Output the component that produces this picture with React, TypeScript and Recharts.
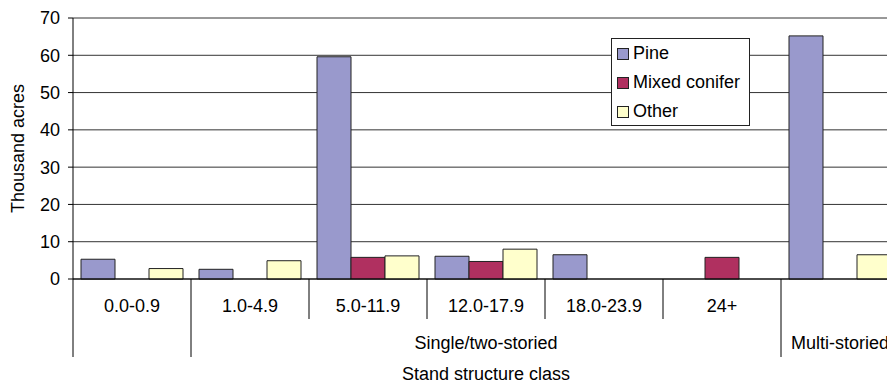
import React from 'react';
import {
  Bar,
  BarChart,
  CartesianGrid,
  Legend,
  XAxis,
  YAxis,
} from 'recharts';

// stand size classes along the bottom axis
const classes = [
  '0.0-0.9',
  '1.0-4.9',
  '5.0-11.9',
  '12.0-17.9',
  '18.0-23.9',
  '24+',
  'Multi',
];
const classLabels = ['0.0-0.9', '1.0-4.9', '5.0-11.9', '12.0-17.9', '18.0-23.9', '24+', ''];

// second row of the axis: group names and how many classes each covers
const groupNames = ['', 'Single/two-storied', 'Multi-storied'];
const groupSpans = [1, 5, 1];

// thousand acres by forest type
const pine = [5.3, 2.6, 59.6, 6.1, 6.5, 0, 65.2];
const mixedConifer = [0, 0, 5.8, 4.7, 0, 5.8, 0];
const other = [2.8, 4.9, 6.2, 8.0, 0, 0, 6.5];

const yTicks = [0, 10, 20, 30, 40, 50, 60, 70];

const series = [
  { key: 'pine', name: 'Pine', color: '#9999CC' },
  { key: 'mixed', name: 'Mixed conifer', color: '#B03060' },
  { key: 'other', name: 'Other', color: '#FFFFCC' },
];

const data = classes.map((c, i) => ({
  cls: c,
  pine: pine[i],
  mixed: mixedConifer[i],
  other: other[i],
}));

const FONT = '"Liberation Sans", Arial, sans-serif';
const FONT_SIZE = 18;
const CHART_W = 900;
const CHART_H = 384;
const Y_AXIS_W = 73;
const MARGIN = { top: 18, right: 1, left: 0, bottom: 0 };
const BAND = (CHART_W - Y_AXIS_W - MARGIN.left - MARGIN.right) / classes.length;

// index of the first class in each group
const groupStarts = groupSpans.map((_, g) =>
  groupSpans.slice(0, g).reduce((a, b) => a + b, 0)
);

function ClassTick(props: any) {
  const { x, y, payload } = props;
  const i = classes.indexOf(payload.value);
  const left = x - BAND / 2;
  const g = groupStarts.indexOf(i);
  const parts: React.ReactNode[] = [];

  if (g >= 0) {
    parts.push(
      <line key='l' x1={left} x2={left} y1={y} y2={y + 78} stroke='#000' />
    );
    if (groupNames[g]) {
      parts.push(
        <text
          key='g'
          x={left + (groupSpans[g] * BAND) / 2}
          y={y + 64}
          textAnchor='middle'
          dominantBaseline='central'
          fontFamily={FONT}
          fontSize={FONT_SIZE}
          fill='#000'
        >
          {groupNames[g]}
        </text>
      );
    }
  } else {
    parts.push(
      <line key='l' x1={left} x2={left} y1={y} y2={y + 40} stroke='#000' />
    );
  }
  if (i === classes.length - 1) {
    parts.push(
      <line key='r' x1={left + BAND} x2={left + BAND} y1={y} y2={y + 78} stroke='#000' />
    );
  }

  return (
    <g>
      {parts}
      <text
        x={x}
        y={y + 27}
        textAnchor='middle'
        dominantBaseline='central'
        fontFamily={FONT}
        fontSize={FONT_SIZE}
        fill='#000'
      >
        {classLabels[i]}
      </text>
    </g>
  );
}

function LegendBox() {
  return (
    <div
      style={{
        boxSizing: 'border-box',
        width: 139,
        height: 88,
        border: '1px solid #222',
        background: '#fff',
        padding: '0 5px',
        fontFamily: FONT,
        fontSize: FONT_SIZE,
        color: '#000',
      }}
    >
      {series.map((s) => (
        <div
          key={s.key}
          style={{ height: 29, lineHeight: '29px', display: 'flex', alignItems: 'center' }}
        >
          <span
            style={{
              boxSizing: 'border-box',
              width: 12,
              height: 12,
              background: s.color,
              border: '1px solid #222',
              marginRight: 4,
              flexShrink: 0,
            }}
          />
          <span style={{ whiteSpace: 'nowrap' }}>{s.name}</span>
        </div>
      ))}
    </div>
  );
}

export default function App() {
  return (
    <div
      style={{
        position: 'absolute',
        left: 0,
        top: 0,
        width: 887,
        height: 384,
        overflow: 'hidden',
        background: '#fff',
      }}
    >
      <BarChart
        width={CHART_W}
        height={CHART_H}
        data={data}
        margin={MARGIN}
        barCategoryGap={8}
        barGap={0}
      >
        <CartesianGrid vertical={false} stroke='#333' />
        <XAxis
          dataKey='cls'
          height={105}
          interval={0}
          tickSize={0}
          tickMargin={0}
          tickLine={false}
          axisLine={{ stroke: '#000' }}
          tick={<ClassTick />}
          label={{
            value: 'Stand structure class',
            position: 'insideBottom',
            offset: 4,
            fontFamily: FONT,
            fontSize: FONT_SIZE,
            fill: '#000',
          }}
        />
        <YAxis
          width={Y_AXIS_W}
          domain={[0, 70]}
          ticks={yTicks}
          interval={0}
          tickSize={5}
          tickMargin={8}
          axisLine={{ stroke: '#000' }}
          tickLine={{ stroke: '#000' }}
          tick={{ fontFamily: FONT, fontSize: FONT_SIZE, fill: '#000' }}
          label={{
            value: 'Thousand acres',
            angle: -90,
            position: 'insideLeft',
            offset: 18,
            style: { textAnchor: 'middle' },
            fontFamily: FONT,
            fontSize: FONT_SIZE,
            fill: '#000',
          }}
        />
        <Legend
          layout='vertical'
          align='center'
          verticalAlign='middle'
          wrapperStyle={{ left: 611, top: 38, width: 139, height: 88 }}
          content={() => <LegendBox />}
        />
        {series.map((s) => (
          <Bar
            key={s.key}
            dataKey={s.key}
            name={s.name}
            fill={s.color}
            stroke='#222'
            strokeWidth={1}
            isAnimationActive={false}
          />
        ))}
      </BarChart>
    </div>
  );
}
